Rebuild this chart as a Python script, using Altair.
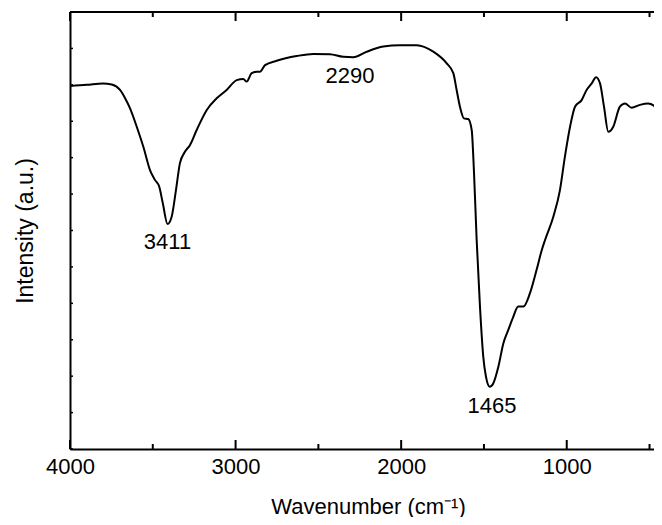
import altair as alt
import pandas as pd

# ---- data ----
wavenumber = [4000, 3899, 3801, 3748, 3698, 3668, 3638, 3597, 3557, 3517, 3487, 3461,
              3440, 3411, 3386, 3360, 3336, 3306, 3275, 3235, 3174, 3114, 3054, 2993,
              2953, 2933, 2903, 2872, 2853, 2822, 2752, 2631, 2531, 2430, 2350, 2290,
              2208, 2108, 2007, 1906, 1806, 1725, 1685, 1665, 1645, 1621, 1595, 1574,
              1560, 1544, 1524, 1504, 1488, 1465, 1444, 1413, 1383, 1353, 1323, 1293,
              1262, 1222, 1182, 1151, 1131, 1081, 1041, 1011, 980, 950, 910, 880,
              849, 823, 799, 775, 749, 719, 679, 648, 608, 558, 508, 467, 447, 425]
intensity = [99.7, 100.0, 100.4, 100.1, 98.6, 96.4, 93.6, 88.5, 83.0, 76.6, 73.9, 72.0,
             67.6, 61.8, 63.8, 71.1, 78.5, 81.6, 83.5, 87.6, 93.1, 96.3, 98.6, 101.3,
             101.6, 100.9, 103.2, 103.6, 103.6, 105.4, 106.6, 107.9, 108.5, 108.4, 107.7, 107.6,
             109.1, 110.5, 110.9, 110.9, 109.1, 105.9, 103.2, 98.6, 94.0, 90.8, 90.6, 87.6,
             75.8, 57.4, 39.1, 25.3, 19.9, 17.1, 18.0, 22.6, 29.0, 32.7, 36.3, 39.1,
             39.1, 42.8, 49.2, 54.6, 57.4, 63.8, 71.1, 80.3, 88.5, 94.0, 95.8, 98.6,
             100.4, 102.1, 100.4, 94.0, 87.1, 88.5, 94.0, 94.9, 93.7, 94.5, 94.9, 94.0, 92.8, 94.5]

major_ticks = [4000, 3000, 2000, 1000]
minor_ticks = [3500, 2500, 1500, 500]
y_ticks = list(range(0, 121, 10))

ann_text = ["3411", "2290", "1465"]
ann_x = [3411, 2309, 1452]
ann_y = [56.8, 102.4, 11.8]

FONT = "Liberation Sans"
W, H = 584, 437

xscale = alt.Scale(domain=[4000, 473], nice=False, zero=False)
yscale = alt.Scale(domain=[0, 120], nice=False, zero=False)

spec_df = pd.DataFrame({"w": wavenumber, "i": intensity})
major_df = pd.DataFrame({"w": major_ticks})
minor_df = pd.DataFrame({"w": minor_ticks})
ytick_df = pd.DataFrame({"i": y_ticks})
ann_df = pd.DataFrame({"label": ann_text, "w": ann_x, "i": ann_y})

x_axis = alt.Axis(orient="bottom", values=major_ticks, format="d", title="Wavenumber (cm⁻¹)",
                  ticks=False, grid=False, domainColor="black", domainWidth=2,
                  labelFont=FONT, labelFontSize=22, labelColor="black", labelPadding=7,
                  labelFlush=False,
                  titleFont=FONT, titleFontSize=22, titleFontWeight="normal",
                  titleColor="black", titlePadding=19, titleAnchor="middle",
                  titleX=298)
y_axis = alt.Axis(orient="left", labels=False, ticks=False, grid=False,
                  domainColor="black", domainWidth=2,
                  title="Intensity (a.u.)", titleFont=FONT, titleFontSize=23,
                  titleFontWeight="normal", titleColor="black", titlePadding=33)

X = alt.X("w:Q", scale=xscale, axis=x_axis)
Y = alt.Y("i:Q", scale=yscale, axis=y_axis)

line = alt.Chart(spec_df).mark_line(color="black", strokeWidth=2, interpolate="monotone",
                                    clip=True).encode(x=X, y=Y)

def xticks(df, y0, y1):
    return alt.Chart(df).mark_rule(color="black", strokeWidth=2).encode(
        x=X, y=alt.value(y0), y2=alt.value(y1))

bottom_major = xticks(major_df, H, H - 9)
bottom_minor = xticks(minor_df, H, H - 5)
top_major = xticks(major_df, 0, 9)
top_minor = xticks(minor_df, 0, 5)

top_line = alt.Chart(major_df).mark_rule(color="black", strokeWidth=2).encode(
    x=alt.value(0), x2=alt.value(W), y=alt.value(0))

left_ticks = alt.Chart(ytick_df).mark_rule(color="black", strokeWidth=1.5).encode(
    y=Y, x=alt.value(0), x2=alt.value(3))

labels = alt.Chart(ann_df).mark_text(font=FONT, fontSize=22, color="black",
                                     align="center", baseline="middle").encode(
    x=X, y=Y, text="label:N")

chart = alt.layer(line, bottom_major, bottom_minor, top_major, top_minor, top_line,
                  left_ticks, labels).properties(
    width=W, height=H, autosize="none",
    padding={"left": 62, "top": 4, "right": 0, "bottom": 68},
).configure_view(strokeWidth=0)

chart.save("out.html", embed_options={"renderer": "svg", "actions": False})
